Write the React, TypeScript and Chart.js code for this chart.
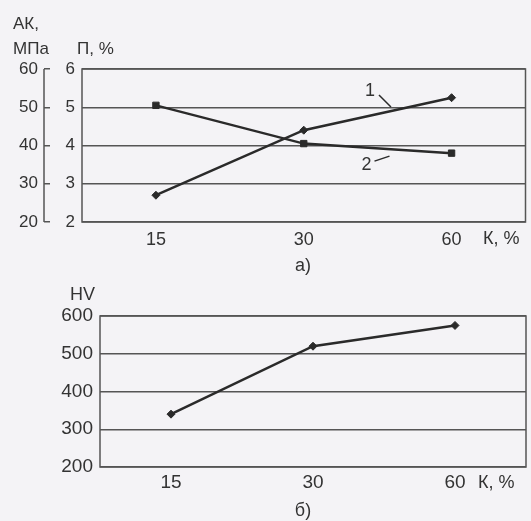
import React, { useEffect, useRef } from 'react';
import { Chart, registerables } from 'chart.js';

Chart.register(...registerables);

// ---- data ----
const categories = ['15', '30', '60'];
const akValues = [27, 44, 52.5]; // АК, МПа (curve 1)
const pValues = [5.05, 4.05, 3.8]; // П, % (curve 2)
const hvValues = [340, 520, 575]; // HV
const akTicks = [20, 30, 40, 50, 60];
const pTicks = [2, 3, 4, 5, 6];
const hvTicks = [200, 300, 400, 500, 600];

const FONT = "'Liberation Sans', Arial, sans-serif";
const INK = '#2a2a2a';
const GRID = '#555555';
const TEXT = '#333333';
const BG = '#f4f3f6';
const TICK_LEN = 6;

const boxPlugin = {
  id: 'boxPlugin',
  afterDraw(chart: any) {
    const { ctx, chartArea } = chart;
    const { left, top, right, bottom } = chartArea;
    ctx.save();
    ctx.strokeStyle = GRID;
    ctx.lineWidth = 1.5;
    ctx.strokeRect(left, top, right - left, bottom - top);
    ctx.restore();
  },
};

const bracketPlugin = {
  id: 'bracketPlugin',
  afterDraw(chart: any) {
    const s = chart.scales.yAK;
    if (!s) return;
    const { ctx } = chart;
    const x = s.right - TICK_LEN;
    ctx.save();
    ctx.strokeStyle = GRID;
    ctx.lineWidth = 1.5;
    ctx.beginPath();
    ctx.moveTo(x, s.getPixelForValue(akTicks[akTicks.length - 1]));
    ctx.lineTo(x, s.getPixelForValue(akTicks[0]));
    ctx.stroke();
    ctx.restore();
  },
};

const annotatePlugin = {
  id: 'annotatePlugin',
  afterDatasetsDraw(chart: any) {
    const { ctx } = chart;
    const along = (di: number, t: number) => {
      const pts = chart.getDatasetMeta(di).data;
      const a = pts[1];
      const b = pts[2];
      return { x: a.x + t * (b.x - a.x), y: a.y + t * (b.y - a.y) };
    };
    ctx.save();
    ctx.strokeStyle = INK;
    ctx.lineWidth = 1.5;
    ctx.fillStyle = TEXT;
    ctx.font = `18px ${FONT}`;
    ctx.textAlign = 'center';
    ctx.textBaseline = 'middle';
    const p1 = along(0, 0.59);
    ctx.beginPath();
    ctx.moveTo(p1.x - 12, p1.y - 16);
    ctx.lineTo(p1.x, p1.y - 4);
    ctx.stroke();
    ctx.fillText('1', p1.x - 21, p1.y - 20);
    const p2 = along(1, 0.58);
    ctx.beginPath();
    ctx.moveTo(p2.x - 15, p2.y + 12);
    ctx.lineTo(p2.x, p2.y + 7);
    ctx.stroke();
    ctx.fillText('2', p2.x - 23, p2.y + 16);
    ctx.restore();
  },
};

function TopChart() {
  const ref = useRef<HTMLCanvasElement>(null);
  useEffect(() => {
    if (!ref.current) return;
    const chart = new Chart(ref.current, {
      type: 'line',
      data: {
        labels: categories,
        datasets: [
          {
            label: '1',
            data: akValues,
            yAxisID: 'yAK',
            borderColor: INK,
            borderWidth: 2.5,
            pointStyle: 'rectRot',
            pointRadius: 4,
            pointBackgroundColor: INK,
            pointBorderColor: INK,
            pointBorderWidth: 1,
            tension: 0,
          },
          {
            label: '2',
            data: pValues,
            yAxisID: 'yP',
            borderColor: INK,
            borderWidth: 2.5,
            pointStyle: 'rect',
            pointRadius: 4.5,
            pointBackgroundColor: INK,
            pointBorderColor: INK,
            pointBorderWidth: 1,
            tension: 0,
          },
        ],
      },
      options: {
        animation: false,
        responsive: false,
        maintainAspectRatio: false,
        layout: { padding: { top: 69, right: 1, left: 0, bottom: 18 } },
        plugins: { legend: { display: false }, tooltip: { enabled: false } },
        scales: {
          x: {
            type: 'category',
            offset: true,
            grid: { display: false },
            border: { display: false },
            ticks: { font: { family: FONT, size: 18 }, color: TEXT, padding: -1, maxRotation: 0 },
            afterFit: (s: any) => { s.height = 30; },
          },
          yAK: {
            position: 'left',
            weight: 1,
            min: akTicks[0],
            max: akTicks[akTicks.length - 1],
            ticks: { stepSize: akTicks[1] - akTicks[0], font: { family: FONT, size: 17 }, color: TEXT, padding: 6 },
            grid: { drawOnChartArea: false, drawTicks: true, tickLength: TICK_LEN, color: GRID, lineWidth: 1.5 },
            border: { display: false },
            afterFit: (s: any) => { s.width = 50; },
          },
          yP: {
            position: 'left',
            weight: 0,
            min: pTicks[0],
            max: pTicks[pTicks.length - 1],
            ticks: { stepSize: pTicks[1] - pTicks[0], font: { family: FONT, size: 17 }, color: TEXT, padding: 7 },
            grid: { drawTicks: false, color: GRID, lineWidth: 1.5 },
            border: { display: false },
            afterFit: (s: any) => { s.width = 32; },
          },
        },
      },
      plugins: [boxPlugin, bracketPlugin, annotatePlugin],
    } as any);
    return () => chart.destroy();
  }, []);
  return <canvas ref={ref} width={531} height={270} style={{ position: 'absolute', left: 0, top: 0 }} />;
}

function BottomChart() {
  const ref = useRef<HTMLCanvasElement>(null);
  useEffect(() => {
    if (!ref.current) return;
    const chart = new Chart(ref.current, {
      type: 'line',
      data: {
        labels: categories,
        datasets: [
          {
            label: 'HV',
            data: hvValues,
            borderColor: INK,
            borderWidth: 2.5,
            pointStyle: 'rectRot',
            pointRadius: 4,
            pointBackgroundColor: INK,
            pointBorderColor: INK,
            pointBorderWidth: 1,
            tension: 0,
          },
        ],
      },
      options: {
        animation: false,
        responsive: false,
        maintainAspectRatio: false,
        layout: { padding: { top: 41, right: 1, left: 0, bottom: 24 } },
        plugins: { legend: { display: false }, tooltip: { enabled: false } },
        scales: {
          x: {
            type: 'category',
            offset: true,
            grid: { display: false },
            border: { display: false },
            ticks: { font: { family: FONT, size: 19 }, color: TEXT, padding: -4, maxRotation: 0 },
            afterFit: (s: any) => { s.height = 30; },
          },
          y: {
            position: 'left',
            min: hvTicks[0],
            max: hvTicks[hvTicks.length - 1],
            ticks: { stepSize: hvTicks[1] - hvTicks[0], font: { family: FONT, size: 19 }, color: TEXT, padding: 7 },
            grid: { drawTicks: false, color: GRID, lineWidth: 1.5 },
            border: { display: false },
            afterFit: (s: any) => { s.width = 100; },
          },
        },
      },
      plugins: [boxPlugin],
    } as any);
    return () => chart.destroy();
  }, []);
  return <canvas ref={ref} width={531} height={246} style={{ position: 'absolute', left: 0, top: 275 }} />;
}

function Label({ text, left, cy, size = 17, center = false }: { text: string; left: number; cy: number; size?: number; center?: boolean }) {
  return (
    <div
      style={{
        position: 'absolute',
        left: center ? left - 40 : left,
        width: center ? 80 : undefined,
        textAlign: center ? 'center' : 'left',
        top: cy - 10,
        height: 20,
        lineHeight: '20px',
        fontSize: size,
        fontFamily: FONT,
        color: TEXT,
        whiteSpace: 'nowrap',
      }}
    >
      {text}
    </div>
  );
}

export default function App() {
  useEffect(() => {
    document.body.style.margin = '0';
    document.body.style.background = BG;
  }, []);
  return (
    <div style={{ position: 'absolute', left: 0, top: 0, width: 531, height: 521, background: BG, overflow: 'hidden' }}>
      <TopChart />
      <BottomChart />
      <Label text="АК," left={13} cy={24} />
      <Label text="МПа" left={13} cy={49} />
      <Label text="П, %" left={77} cy={49} />
      <Label text="К, %" left={483} cy={238} size={18} />
      <Label text="а)" left={303} cy={265} size={18} center />
      <Label text="HV" left={70} cy={294} size={18} />
      <Label text="К, %" left={478} cy={482} size={18} />
      <Label text="б)" left={303} cy={510} size={18} center />
    </div>
  );
}
